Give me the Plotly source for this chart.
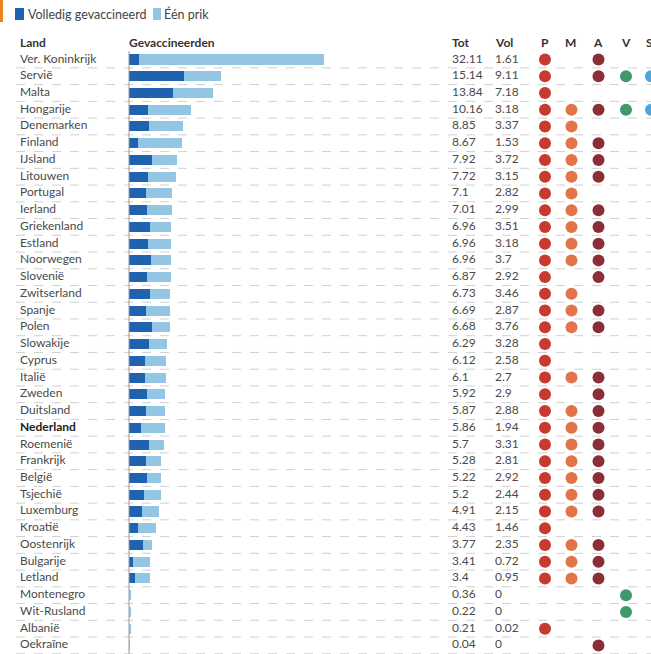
import plotly.graph_objects as go

countries = ["Ver. Koninkrijk", "Servië", "Malta", "Hongarije", "Denemarken", "Finland", "IJsland",
             "Litouwen", "Portugal", "Ierland", "Griekenland", "Estland", "Noorwegen", "Slovenië",
             "Zwitserland", "Spanje", "Polen", "Slowakije", "Cyprus", "Italië", "Zweden", "Duitsland",
             "Nederland", "Roemenië", "Frankrijk", "België", "Tsjechië", "Luxemburg", "Kroatië",
             "Oostenrijk", "Bulgarije", "Letland", "Montenegro", "Wit-Rusland", "Albanië", "Oekraïne"]
tot = [32.11, 15.14, 13.84, 10.16, 8.85, 8.67, 7.92, 7.72, 7.1, 7.01, 6.96, 6.96, 6.96, 6.87,
       6.73, 6.69, 6.68, 6.29, 6.12, 6.1, 5.92, 5.87, 5.86, 5.7, 5.28, 5.22, 5.2, 4.91, 4.43,
       3.77, 3.41, 3.4, 0.36, 0.22, 0.21, 0.04]
vol = [1.61, 9.11, 7.18, 3.18, 3.37, 1.53, 3.72, 3.15, 2.82, 2.99, 3.51, 3.18, 3.7, 2.92,
       3.46, 2.87, 3.76, 3.28, 2.58, 2.7, 2.9, 2.88, 1.94, 3.31, 2.81, 2.92, 2.44, 2.15, 1.46,
       2.35, 0.72, 0.95, 0, 0, 0.02, 0]
# vaccine flags: P, M, A, V, S
vaccines = ["P", "M", "A", "V", "S"]
flags = {
    "P": [1,1,1,1,1,1,1,1,1,1,1,1,1,1,1,1,1,1,1,1,1,1,1,1,1,1,1,1,1,1,1,1,0,0,1,0],
    "M": [0,0,0,1,1,1,1,1,1,1,1,1,1,0,1,1,1,0,0,1,0,1,1,1,1,1,1,1,0,1,1,1,0,0,0,0],
    "A": [1,1,0,1,0,1,1,1,0,1,1,1,1,1,0,1,1,0,0,1,1,1,1,1,1,1,1,1,0,1,1,1,0,0,0,1],
    "V": [0,1,0,1,0,0,0,0,0,0,0,0,0,0,0,0,0,0,0,0,0,0,0,0,0,0,0,0,0,0,0,0,1,1,0,0],
    "S": [0,1,0,1,0,0,0,0,0,0,0,0,0,0,0,0,0,0,0,0,0,0,0,0,0,0,0,0,0,0,0,0,0,0,0,0],
}
vac_colors = {"P": "#c63a2f", "M": "#e2734a", "A": "#8a2f35", "V": "#3f9a6b", "S": "#4ea5d9"}
legend_labels = ["Volledig gevaccineerd", "Één prik"]

W, H = 651, 654
DARK, LIGHT = "#1e62b0", "#93c6e3"
TXT = "#4a4a4a"
FONT = "Lato"

n = len(countries)
rows = list(range(n))
row0_px, row_h = 59.5, 16.74
y_top = (0 - row0_px) / row_h
y_bot = (H - row0_px) / row_h

bar_x0_px, px_per_unit = 129, 6.07
xr = [(0 - bar_x0_px) / px_per_unit, (W - bar_x0_px) / px_per_unit]

col_land, col_tot, col_vol = 20, 452, 495
dot_cols = {"P": 545, "M": 571.5, "A": 598.5, "V": 626, "S": 651}

fig = go.Figure()
fig.add_trace(go.Bar(y=rows, x=vol, orientation="h", marker=dict(color=DARK, line_width=0),
                     width=0.6, name=legend_labels[0], hoverinfo="skip"))
fig.add_trace(go.Bar(y=rows, x=[t - v for t, v in zip(tot, vol)], orientation="h",
                     marker=dict(color=LIGHT, line_width=0), width=0.6,
                     name=legend_labels[1], hoverinfo="skip"))

labels = [f"<b>{c}</b>" if c == "Nederland" else c for c in countries]
label_colors = ["#222" if c == "Nederland" else TXT for c in countries]
fig.add_trace(go.Scatter(x=[col_land] * n, y=rows, mode="text", text=labels,
                         textposition="middle right", xaxis="x2",
                         textfont=dict(family=FONT, size=12, color=label_colors), hoverinfo="skip"))
fig.add_trace(go.Scatter(x=[col_tot] * n, y=rows, mode="text", text=[f"{t:g}" for t in tot],
                         textposition="middle right", xaxis="x2",
                         textfont=dict(family=FONT, size=12, color=TXT), hoverinfo="skip"))
fig.add_trace(go.Scatter(x=[col_vol] * n, y=rows, mode="text", text=[f"{v:g}" for v in vol],
                         textposition="middle right", xaxis="x2",
                         textfont=dict(family=FONT, size=12, color=TXT), hoverinfo="skip"))

for vname in vaccines:
    ys = [i for i in rows if flags[vname][i]]
    fig.add_trace(go.Scatter(x=[dot_cols[vname]] * len(ys), y=ys, mode="markers", xaxis="x2",
                             marker=dict(size=12, color=vac_colors[vname], line_width=0),
                             cliponaxis=False, hoverinfo="skip"))

shapes = []
for i in rows:
    shapes.append(dict(type="line", xref="paper", x0=16 / W, x1=1, yref="y", y0=i + 0.5, y1=i + 0.5,
                       line=dict(color="#d0d0d0", width=1, dash="dash"), layer="below"))
shapes.append(dict(type="line", xref="x", x0=0, x1=0, yref="y", y0=-0.5, y1=n - 0.5,
                   line=dict(color="#9a9a9a", width=1)))
# orange accent
shapes.append(dict(type="rect", xref="paper", yref="paper", x0=0, x1=3 / W, y0=1 - 22 / H, y1=1,
                   fillcolor="#e8841a", line_width=0))
# legend swatches
for x0, x1, c in [(15, 24, DARK), (153, 161, LIGHT)]:
    shapes.append(dict(type="rect", xref="paper", yref="paper", x0=x0 / W, x1=x1 / W,
                       y0=1 - 20 / H, y1=1 - 8 / H, fillcolor=c, line_width=0))

annotations = []
for x0, lab in [(26, legend_labels[0]), (162, legend_labels[1])]:
    annotations.append(dict(xref="paper", yref="paper", x=x0 / W, y=1 - 14 / H, text=lab,
                            showarrow=False, xanchor="left", yanchor="middle",
                            font=dict(family=FONT, size=12.5, color="#444")))
hdr_y = (42 - row0_px) / row_h
for x0, lab in [(col_land, "Land"), (bar_x0_px, "Gevaccineerden"), (col_tot, "Tot"), (col_vol, "Vol"),
                (541, "P"), (565, "M"), (593, "A"), (621, "V"), (646, "S")]:
    annotations.append(dict(xref="x2", yref="y", x=x0, y=hdr_y, text=f"<b>{lab}</b>", showarrow=False,
                            xanchor="left", yanchor="middle", xshift=-2,
                            font=dict(family=FONT, size=12, color="#333")))

fig.update_layout(
    width=W, height=H, margin=dict(l=0, r=0, t=0, b=0),
    paper_bgcolor="white", plot_bgcolor="white", barmode="stack", bargap=0,
    showlegend=False, shapes=shapes, annotations=annotations, hovermode=False,
    xaxis=dict(range=xr, visible=False, fixedrange=True),
    xaxis2=dict(range=[0, W], overlaying="x", visible=False, anchor="y"),
    yaxis=dict(range=[y_bot, y_top], visible=False),
)
fig.write_html("out.html", config={"displayModeBar": False},
               post_script="document.body.style.margin='0px';")
